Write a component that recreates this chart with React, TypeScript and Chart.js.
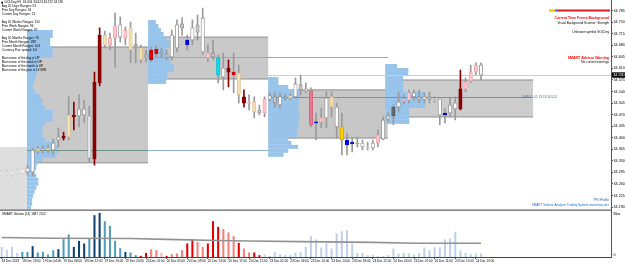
import React, { useEffect, useRef } from "react";
import { Chart, registerables } from "chart.js";

Chart.register(...registerables);

const FONT = "'Liberation Sans', Arial, Helvetica, sans-serif";

// ---------- candle data (H1 bars, index 0..93) ----------
const opens = [
  34.287, 34.296, 34.29, 34.299, 34.293, 34.296, 34.296, 34.36, 34.363, 34.363,
  34.363, 34.393, 34.405, 34.402, 34.469, 34.466, 34.469, 34.466, 34.336, 34.566,
  34.711, 34.681, 34.702, 34.705, 34.726, 34.733, 34.678, 34.672, 34.645, 34.666,
  34.669, 34.654, 34.645, 34.645, 34.672, 34.733, 34.696, 34.696, 34.742, 34.763,
  34.657, 34.645, 34.642, 34.584, 34.611, 34.599, 34.596, 34.524, 34.508, 34.508,
  34.475, 34.475, 34.517, 34.524, 34.499, 34.524, 34.52, 34.524, 34.56, 34.542,
  34.542, 34.448, 34.46, 34.46, 34.524, 34.493, 34.433, 34.393, 34.387, 34.381,
  34.384, 34.372, 34.369, 34.384, 34.396, 34.457, 34.466, 34.493, 34.511, 34.514,
  34.536, 34.524, 34.517, 34.524, 34.517, 34.517, 34.469, 34.475, 34.487, 34.487,
  34.548, 34.572, 34.599, 34.62,
];
const highs = [
  34.302, 34.305, 34.302, 34.308, 34.311, 34.317, 34.369, 34.375, 34.375, 34.378,
  34.396, 34.43, 34.417, 34.524, 34.508, 34.53, 34.514, 34.496, 34.599, 34.733,
  34.723, 34.717, 34.778, 34.766, 34.736, 34.751, 34.717, 34.681, 34.666, 34.675,
  34.678, 34.672, 34.666, 34.726, 34.757, 34.763, 34.711, 34.757, 34.772, 34.793,
  34.681, 34.696, 34.651, 34.657, 34.636, 34.657, 34.62, 34.545, 34.53, 34.524,
  34.499, 34.524, 34.536, 34.539, 34.536, 34.53, 34.533, 34.581, 34.59, 34.566,
  34.551, 34.475, 34.49, 34.539, 34.539, 34.505, 34.475, 34.414, 34.399, 34.402,
  34.393, 34.387, 34.393, 34.424, 34.463, 34.475, 34.499, 34.539, 34.53, 34.545,
  34.545, 34.545, 34.536, 34.539, 34.524, 34.517, 34.49, 34.52, 34.524, 34.605,
  34.581, 34.62, 34.627, 34.627,
];
const lows = [
  34.281, 34.284, 34.281, 34.29, 34.287, 34.287, 34.284, 34.351, 34.354, 34.354,
  34.348, 34.372, 34.393, 34.393, 34.424, 34.433, 34.445, 34.326, 34.317, 34.557,
  34.672, 34.666, 34.614, 34.69, 34.681, 34.627, 34.627, 34.627, 34.63, 34.63,
  34.645, 34.642, 34.636, 34.636, 34.66, 34.711, 34.666, 34.681, 34.696, 34.651,
  34.63, 34.636, 34.566, 34.545, 34.554, 34.536, 34.505, 34.493, 34.484, 34.46,
  34.469, 34.463, 34.511, 34.493, 34.49, 34.514, 34.514, 34.52, 34.53, 34.536,
  34.433, 34.393, 34.43, 34.43, 34.463, 34.399, 34.348, 34.348, 34.357, 34.372,
  34.363, 34.363, 34.363, 34.372, 34.393, 34.448, 34.439, 34.478, 34.502, 34.505,
  34.514, 34.505, 34.505, 34.505, 34.508, 34.439, 34.445, 34.463, 34.454, 34.484,
  34.539, 34.566, 34.59, 34.575,
];
const closes = [
  34.296, 34.29, 34.299, 34.293, 34.305, 34.308, 34.363, 34.366, 34.366, 34.369,
  34.384, 34.402, 34.399, 34.469, 34.463, 34.487, 34.487, 34.339, 34.569, 34.711,
  34.681, 34.702, 34.739, 34.742, 34.702, 34.666, 34.684, 34.636, 34.651, 34.636,
  34.654, 34.66, 34.651, 34.711, 34.742, 34.745, 34.681, 34.733, 34.72, 34.66,
  34.642, 34.657, 34.59, 34.611, 34.599, 34.59, 34.53, 34.505, 34.505, 34.478,
  34.484, 34.517, 34.527, 34.505, 34.524, 34.52, 34.527, 34.563, 34.545, 34.548,
  34.439, 34.445, 34.448, 34.52, 34.493, 34.433, 34.393, 34.378, 34.381, 34.384,
  34.372, 34.369, 34.384, 34.408, 34.454, 34.466, 34.493, 34.508, 34.517, 34.536,
  34.524, 34.514, 34.524, 34.517, 34.514, 34.469, 34.475, 34.499, 34.505, 34.548,
  34.569, 34.599, 34.62, 34.59,
];
const candleTone = (
  "xxxxxwwywy" + "wwRyRwwlRR" + "yppwpygywr" + "rgwwwgbwgw" + "pgcwRryRpy" +
  "gpwgwgywgw" + "Pbpwywobbg" + "wywpwwdwpp" + "wgwgywbwwR" + "pppw"
).split("");

// ---------- volume sub-window ----------
const volumes = [
  568, 377, 568, 220, 278, 278, 609, 244, 278, 128,
  377, 435, 1015, 1288, 568, 916, 766, 1073, 2407, 2540,
  2059, 1786, 916, 493, 278, 244, 87, 46, 220, 435,
  377, 244, 46, 145, 186, 377, 766, 998, 858, 568,
  766, 2059, 1728, 1595, 1404, 1189, 800, 476, 244, 244,
  87, 128, 46, 278, 145, 87, 87, 244, 278, 568,
  1189, 998, 534, 766, 476, 1346, 1479, 1537, 766, 220,
  220, 87, 87, 29, 29, 87, 476, 186, 220, 186,
  128, 220, 534, 377, 534, 534, 998, 1056, 1438, 377,
  220, 145, 186, 186,
];
const volumeTone = (
  "LLLLTTNTTT" + "TNTTNNNTNN" + "TTTTNTTRRS" + "SPRSSSRRSS" + "RRRSSSRSSR" +
  "RLLLLLLLLL" + "LLLLLLLLLL" + "LLLLLLLLLL" + "LLLLLLLLLL" + "LLLL"
).split("");
const volumeAvgBars = [0, 10, 25, 32, 42, 48, 58, 72, 80, 93];
const volumeAvgValues = [1130, 1090, 1073, 1020, 960, 930, 890, 850, 800, 795];
const volumeMax = 2726;

// ---------- axes ----------
const xTickBars = [0, 4, 8, 12, 16, 20, 24, 28, 32, 36, 40, 44, 48, 52, 56, 60, 64, 68, 72, 76, 80, 84, 88, 92];
const xTickLabels = [
  "18 Dec 2019", "18 Dec 23:00", "19 Dec 04:00", "19 Dec 08:00", "19 Dec 12:00", "19 Dec 16:00",
  "19 Dec 20:00", "20 Dec 01:00", "20 Dec 05:00", "20 Dec 09:00", "20 Dec 13:00", "20 Dec 17:00",
  "20 Dec 21:00", "23 Dec 02:00", "23 Dec 06:00", "23 Dec 10:00", "23 Dec 14:00", "23 Dec 18:00",
  "23 Dec 22:00", "24 Dec 03:00", "24 Dec 07:00", "24 Dec 11:00", "24 Dec 15:00", "24 Dec 19:00",
];
const priceTicks = [
  34.785, 34.75, 34.715, 34.68, 34.645, 34.61, 34.575, 34.54, 34.505, 34.47,
  34.435, 34.4, 34.365, 34.33, 34.295, 34.26, 34.225, 34.19,
];
const priceMin = 34.181;
const priceMax = 34.8174;
const bidPrice = 34.59;

// ---------- day boxes ----------
const boxStart = [-0.33, 4.9, 28.4, 51.7, 74.9];
const boxEnd = [4.9, 28.4, 51.7, 74.9, 103.1];
const boxHigh = [34.372, 34.675, 34.705, 34.545, 34.575];
const boxLow = [34.181, 34.324, 34.578, 34.399, 34.463];

// ---------- volume profiles (row lengths in bars) ----------
const profileStart = [4.9, 28.4, 51.7, 74.4];
const profileTop = [34.7265, 34.7568, 34.5841, 34.6235];
const profileStep = 0.0121;
const profile0 = [5, 5, 4.5, 4.5, 5, 5, 5, 2.5, 2.2, 2, 2, 1.8, 1.5, 1.2, 1.2, 1.5, 2.5, 3, 3, 3.5, 5, 5, 5, 3.5, 3, 3, 3, 3.5, 5.5, 6, 6, 5.5, 3, 2, 1.8, 1.5, 1.8, 2.2, 2.2, 1.8, 1.5, 1.2, 1, 1, 0.8];
const profile1 = [1.5, 2, 2.5, 3, 3.5, 5, 5, 3.5, 3.5, 4.3, 4.3, 5, 5, 3.7, 3.7, 3.5];
const profile2 = [2, 2, 3.9, 6.2, 6.2, 6, 6, 5.8, 6, 6.2, 6, 5.8, 6, 5.6, 5.6, 3.9, 4.5, 5.8, 3.9, 3];
const profile3 = [2.3, 4.5, 4.5, 3.5, 3.5, 3.5, 3.5, 7.8, 7.8, 7.8, 7.8, 4.7, 4.7, 4.7, 4.7];

// ---------- horizontal levels ----------
const levelPrice = [34.363, 34.363, 34.645, 34.524, 34.524, 34.59];
const levelStart = [4.9, 28.4, 28.4, 51.7, 74.9, 51.7];
const levelEnd = [28.4, 51.7, 75, 74.9, 103.1, 119];

// ---------- texts ----------
const infoLines = [
  "GOLDey,H1  34.604 34.624 34.572 34.590",
  "Avg 20 Days Ranges: 53",
  "Prev Day Ranges: 34",
  "Current Day Ranges: 13",
  "",
  "Avg 20 Weeks Ranges: 150",
  "Prev Week Ranges: 96",
  "Current Week Ranges: 97",
  "",
  "Avg 20 Months Ranges: 76",
  "Prev Month Ranges: 289",
  "Current Month Ranges: 104",
  "Currency Pair spread: 3.0",
  "",
  "Main move of the day is UP",
  "Main move of the week is UP",
  "Main move of the month is UP",
  "Main move of the year is DOWN",
];
const volumeTitle = "SMART Volume (14) 1887 2512";
const pocLabel = "D4POC: 01 13:18 34.524";

// ---------- styles ----------
const TONE_FILL: Record<string, string> = {
  w: "#ffffff", g: "#c6c6c6", l: "#e6e6e6", x: "#f3f3f3", p: "#ffc4cc", P: "#e8788f",
  y: "#f6dfae", o: "#ffcc00", R: "#8b0000", r: "#e00000", b: "#0000ff", c: "#00e0f0", d: "#6a6a6a",
};
const TONE_EDGE: Record<string, string> = {
  w: "#8c8c8c", g: "#8c8c8c", l: "#a8a8a8", x: "#d6d6d6", p: "#e6a2ab", P: "#d06078",
  y: "#d9c08a", o: "#d6a800", R: "#8b0000", r: "#c00000", b: "#0000c0", c: "#00b8c8", d: "#4a4a4a",
};
const VOL_FILL: Record<string, string> = {
  L: "#c2d0ea", T: "#4f9dbd", N: "#0e4370", R: "#e60000", S: "#f3807a", P: "#f7b8b8",
};
const BOX_FILL = ["#dedede", "#c9c9c9", "#c9c9c9", "#c7c7c7", "#cdcdcd"];
const LEVEL_COLOR = ["#6f9484", "#8fb2c4", "#e88a8a", "#7f978a", "#7f978a", "#cdcdcd"];

const overlay = {
  id: "mt4Overlay",
  beforeDatasetsDraw(chart: any) {
    const { ctx, chartArea: ca, scales } = chart;
    const xs = scales.x;
    const ys = scales.y;
    const px = (v: number) => xs.getPixelForValue(v);
    const py = (v: number) => ys.getPixelForValue(v);
    ctx.save();
    ctx.beginPath();
    ctx.rect(ca.left, ys.top, ca.right - ca.left, ys.bottom - ys.top);
    ctx.clip();
    boxStart.forEach((s, i) => {
      const x0 = px(s), x1 = px(boxEnd[i]);
      const y0 = py(boxHigh[i]), y1 = py(boxLow[i]);
      ctx.fillStyle = BOX_FILL[i];
      ctx.fillRect(x0, y0, x1 - x0, y1 - y0);
      if (i > 0) {
        ctx.fillStyle = "#8e8e8e";
        ctx.fillRect(x0, y0 - 0.5, x1 - x0, 1);
        ctx.fillRect(x0, y1 - 0.5, x1 - x0, 1);
      }
    });
    const profiles = [profile0, profile1, profile2, profile3];
    ctx.fillStyle = "#98c4ec";
    profiles.forEach((rows, k) => {
      rows.forEach((len, r) => {
        const x0 = px(profileStart[k]);
        const x1 = px(profileStart[k] + len);
        const y0 = py(profileTop[k] - r * profileStep);
        const y1 = py(profileTop[k] - (r + 1) * profileStep);
        ctx.fillRect(x0, y0, x1 - x0, y1 - y0);
      });
    });
    levelPrice.forEach((p, i) => {
      const y = Math.round(py(p)) + 0.5;
      ctx.strokeStyle = LEVEL_COLOR[i];
      ctx.lineWidth = 1;
      ctx.beginPath();
      ctx.moveTo(px(levelStart[i]), y);
      ctx.lineTo(px(levelEnd[i]), y);
      ctx.stroke();
    });
    ctx.restore();
  },
  afterDraw(chart: any) {
    const { ctx, scales } = chart;
    const ys = scales.y;
    const yv = scales.yv;
    const txt = (s: string, x: number, y: number, size: number, color: string, align = "left", bold = false) => {
      ctx.font = `${bold ? "bold " : ""}${size}px ${FONT}`;
      ctx.fillStyle = color;
      ctx.textAlign = align;
      ctx.textBaseline = "middle";
      ctx.fillText(s, x, y);
    };
    ctx.save();
    // pane separator
    ctx.fillStyle = "#6a6a6a";
    ctx.fillRect(0, ys.bottom - 0.5, ys.left, 1.3);
    // info block
    infoLines.forEach((s, k) => {
      if (s) txt(s, k === 0 ? 4.5 : 1.7, 2.6 + 4 * k, 3.1, "#000");
    });
    ctx.fillStyle = "#000";
    ctx.fillRect(1.3, 1.8, 1.7, 1.7);
    // top right strip and messages
    ctx.fillStyle = "#f0c000"; ctx.fillRect(549, 9.5, 6, 2);
    ctx.fillStyle = "#3060ff"; ctx.fillRect(555, 9.5, 3, 2);
    ctx.fillStyle = "#e02020"; ctx.fillRect(558, 9.5, 52, 2);
    txt("Current Time Frame Background", 609, 18, 3.5, "#ff0000", "right", true);
    txt("Visual Background Scanner: Strength", 609, 23, 3.1, "#000", "right");
    txt("Unknown symbol GOLDey", 609, 32, 3.1, "#000", "right");
    txt("SMART Advisor Warning", 609, 58, 3.5, "#ff0000", "right", true);
    txt("No current warnings", 609, 62.5, 3.1, "#000", "right");
    txt(pocLabel, 522, 97.5, 3.1, "#4a6a8a");
    txt("TPO Profile", 609, 200, 3.1, "#3050a0", "right");
    txt("SMART Volume Analysis Trading System www.fxsecrets", 609, 205.5, 3.1, "#2070e0", "right");
    txt(volumeTitle, 2, 214.5, 3.1, "#000");
    // bid price tag
    const by = ys.getPixelForValue(bidPrice);
    ctx.fillStyle = "#000";
    ctx.fillRect(ys.left + 1, by - 2.7, 14, 5.4);
    txt(bidPrice.toFixed(3), ys.left + 2.3, by, 3.7, "#fff");
    // volume axis
    txt("Max", yv.left + 2.5, yv.top + 3.5, 3.7, "#000");
    txt("0", yv.left + 2.5, yv.bottom - 2, 3.7, "#000");
    ctx.restore();
  },
};

export default function App() {
  const ref = useRef<HTMLCanvasElement | null>(null);
  useEffect(() => {
    document.body.style.margin = "0";
    const canvas = ref.current;
    if (!canvas) return;
    const bars = opens.map((_, i) => i);
    const tickFont = { size: 3.1, family: FONT };
    const chart = new Chart(canvas, {
      data: {
        datasets: [
          {
            type: "bar",
            data: bars.map((i) => ({ x: i, y: [lows[i], highs[i]] })),
            backgroundColor: candleTone.map((t) => (t === "R" ? "#8b0000" : t === "x" ? "#d2d2d2" : "#9a9a9a")),
            barThickness: 1,
            grouped: false,
            yAxisID: "y",
            order: 3,
          },
          {
            type: "bar",
            data: bars.map((i) => ({ x: i, y: [Math.min(opens[i], closes[i]), Math.max(opens[i], closes[i])] })),
            backgroundColor: candleTone.map((t) => TONE_FILL[t]),
            borderColor: candleTone.map((t) => TONE_EDGE[t]),
            borderWidth: 0.8,
            borderSkipped: false,
            barThickness: 3.4,
            grouped: false,
            yAxisID: "y",
            order: 2,
          },
          {
            type: "bar",
            data: volumes.map((v, i) => ({ x: i, y: v })),
            backgroundColor: volumeTone.map((t) => VOL_FILL[t]),
            barThickness: 1.4,
            grouped: false,
            yAxisID: "yv",
            order: 2,
          },
          {
            type: "line",
            data: volumeAvgBars.map((b, i) => ({ x: b, y: volumeAvgValues[i] })),
            borderColor: "#929292",
            borderWidth: 1.6,
            pointRadius: 0,
            yAxisID: "yv",
            order: 1,
          },
        ],
      } as any,
      options: {
        animation: false,
        responsive: false,
        devicePixelRatio: 1,
        events: [],
        layout: { padding: 0 },
        plugins: { legend: { display: false }, tooltip: { enabled: false } },
        scales: {
          x: {
            type: "linear",
            position: "bottom",
            min: -0.33,
            max: 118.22,
            offset: false,
            bounds: "data",
            grid: { display: true, drawOnChartArea: false, drawTicks: true, tickLength: 2, color: "#555", offset: false },
            border: { display: true, color: "#444" },
            ticks: {
              font: tickFont,
              color: "#000",
              padding: 0.5,
              align: "start",
              maxRotation: 0,
              autoSkip: false,
              callback: (v: any) => {
                const k = xTickBars.indexOf(Number(v));
                return k >= 0 ? xTickLabels[k] : "";
              },
            },
            afterBuildTicks: (s: any) => {
              s.ticks = xTickBars.map((v) => ({ value: v }));
            },
            afterFit: (s: any) => {
              s.height = 8;
              s.paddingLeft = 0;
              s.paddingRight = 0;
            },
          },
          y: {
            type: "linear",
            position: "right",
            stack: "panes",
            stackWeight: 210,
            weight: 0,
            min: priceMin,
            max: priceMax,
            bounds: "data",
            grid: { display: true, drawOnChartArea: false, drawTicks: true, tickLength: 2, color: "#555" },
            border: { display: true, color: "#555" },
            ticks: {
              font: { size: 3.7, family: FONT },
              color: "#000",
              padding: 0.5,
              autoSkip: false,
              callback: (v: any) => Number(v).toFixed(3),
            },
            afterBuildTicks: (s: any) => {
              s.ticks = priceTicks.map((v) => ({ value: v }));
            },
            afterFit: (s: any) => {
              s.width = 14;
              s.paddingTop = 0;
              s.paddingBottom = 0;
            },
          },
          yv: {
            type: "linear",
            position: "right",
            stack: "panes",
            stackWeight: 47,
            weight: 1,
            min: 0,
            max: volumeMax,
            bounds: "data",
            grid: { display: false, drawTicks: false },
            border: { display: true, color: "#555" },
            ticks: { display: false },
            afterFit: (s: any) => {
              s.width = 14;
              s.paddingTop = 0;
              s.paddingBottom = 0;
            },
          },
        },
      } as any,
      plugins: [overlay as any],
    });
    return () => chart.destroy();
  }, []);
  return (
    <div style={{ width: 625, height: 265, background: "#fff" }}>
      <canvas ref={ref} width={625} height={265} style={{ display: "block", width: 625, height: 265 }} />
    </div>
  );
}
